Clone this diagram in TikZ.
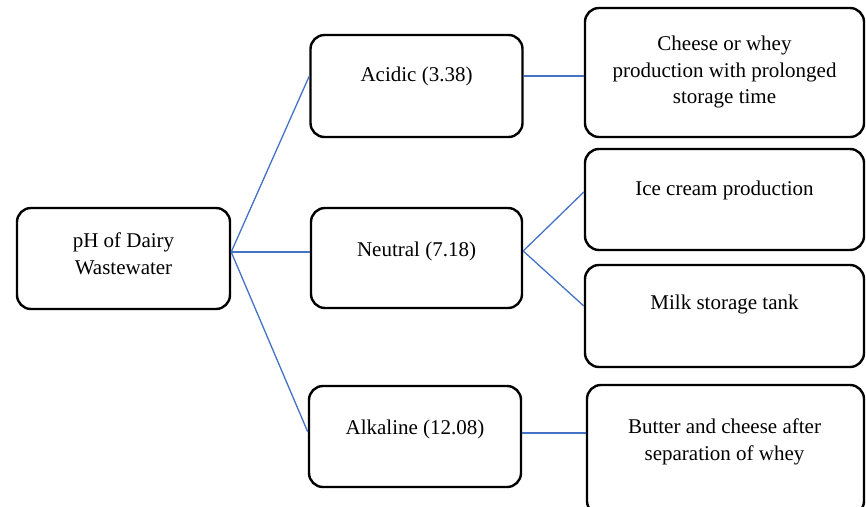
\documentclass[tikz,border=0pt]{standalone}
\usepackage{fontspec}
\setmainfont{Liberation Serif}
\definecolor{linkblue}{RGB}{68,114,196}
\begin{document}
\begin{tikzpicture}[x=1pt,y=-1pt,
  box/.style={draw=black,line width=2.4pt,rounded corners=14pt,fill=white,inner sep=0pt},
  txt/.style={align=center,font=\fontsize{21}{26.5}\selectfont,inner sep=0pt},
  link/.style={draw=linkblue,line width=1.3pt}]
\useasboundingbox (0,0) rectangle (866,506);
\clip (0,0) rectangle (866,506);
% boxes
\node[box,minimum width=213pt,minimum height=101pt] (root) at (123.5,258.5) {};
\node[box,minimum width=212pt,minimum height=102pt] (acid) at (416.5,86) {};
\node[box,minimum width=211pt,minimum height=100pt] (neut) at (416.5,258) {};
\node[box,minimum width=212pt,minimum height=101pt] (alka) at (415,436.5) {};
\node[box,minimum width=279pt,minimum height=129pt] (cheese) at (724.5,72.5) {};
\node[box,minimum width=279pt,minimum height=101pt] (ice) at (724.5,199.5) {};
\node[box,minimum width=279pt,minimum height=102pt] (milk) at (724.5,316) {};
\node[box,minimum width=277pt,minimum height=130pt] (butter) at (725.5,450) {};
% texts
\node[txt] (roott) at (123.5,254) {pH of Dairy\\Wastewater};
\node[txt] (acidt) at (416.5,76) {Acidic (3.38)};
\node[txt] (neutt) at (416.5,251) {Neutral (7.18)};
\node[txt] (alkat) at (415,429) {Alkaline (12.08)};
\node[txt] (cheeset) at (724.5,72) {Cheese or whey\\production with prolonged\\storage time};
\node[txt] (icet) at (724.5,190) {Ice cream production};
\node[txt] (milkt) at (724.5,304) {Milk storage tank};
\node[txt] (buttert) at (724.5,442) {Butter and cheese after\\separation of whey};
% anchor points
\coordinate (rootout) at ([yshift=6.5pt]root.east);
\coordinate (neutout) at ([yshift=7pt]neut.east);
\coordinate (alkaout) at ([yshift=3.5pt]alka.east);
% connectors
\draw[link] (rootout) -- (acid.west |- acidt);
\draw[link] (rootout) -- (neut.west |- rootout);
\draw[link] (rootout) -- ([yshift=4.5pt]alka.west);
\draw[link] (acid.east |- acidt) -- (cheese.west |- acidt);
\draw[link] (neutout) -- ([yshift=7.5pt]ice.west);
\draw[link] (neutout) -- ([yshift=10pt]milk.west);
\draw[link] (alkaout) -- (butter.west |- alkaout);
\end{tikzpicture}
\end{document}
